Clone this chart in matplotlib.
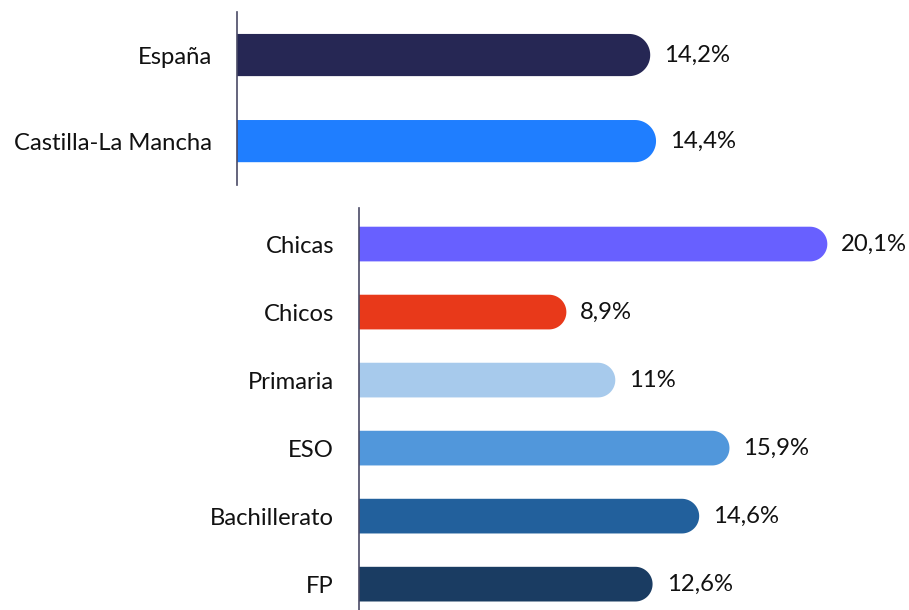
"""Horizontal bar chart with rounded bar ends, two panels."""

import matplotlib.pyplot as plt
import numpy as np
from matplotlib.patches import PathPatch
from matplotlib.path import Path

# data
top_labels = ["España", "Castilla-La Mancha"]
top_values = [14.2, 14.4]
top_texts = ["14,2%", "14,4%"]
top_colors = ["#262754", "#1F7EFF"]

bottom_labels = ["Chicas", "Chicos", "Primaria", "ESO", "Bachillerato", "FP"]
bottom_values = [20.1, 8.9, 11.0, 15.9, 14.6, 12.6]
bottom_texts = ["20,1%", "8,9%", "11%", "15,9%", "14,6%", "12,6%"]
bottom_colors = ["#6860FF", "#E8391A", "#A7CAEC", "#5197DB", "#22609C", "#1A3C62"]

W, H, DPI = 909, 610, 100
FS = 17.2
plt.rcParams["font.family"] = ["Lato", "DejaVu Sans"]
fig = plt.figure(figsize=(W / DPI, H / DPI), dpi=DPI)


def rounded_bar(ax, y, value, h, rx, color):
    # square left end, half-circle right end (rx corrects for axis aspect)
    t = np.linspace(-np.pi / 2, np.pi / 2, 40)
    cx = value - rx
    arc = np.column_stack([cx + rx * np.cos(t), y + h / 2 * np.sin(t)])
    verts = np.vstack([[0, y - h / 2], arc, [0, y + h / 2], [0, y - h / 2]])
    ax.add_patch(PathPatch(Path(verts, closed=True), facecolor=color, edgecolor="none"))


def rounded_panel(rect_px, xmax, ylim, labels, values, texts, colors, bar_h):
    left, top, right, bottom = rect_px
    ax = fig.add_axes([left / W, 1 - bottom / H, (right - left) / W, (bottom - top) / H])
    ax.set_xlim(0, xmax)
    ax.set_ylim(*ylim)
    px_x = (right - left) / xmax
    px_y = (bottom - top) / abs(ylim[0] - ylim[1])
    rx = bar_h * px_y / 2 / px_x
    for i, (v, c) in enumerate(zip(values, colors)):
        rounded_bar(ax, i, v, bar_h, rx, c)
        ax.text(v + 14 / px_x, i, texts[i], va="center", ha="left", fontsize=FS, color="#111111")
    ax.set_yticks(range(len(labels)))
    ax.set_yticklabels(labels, fontsize=FS, color="#111111")
    ax.tick_params(axis="y", length=0, pad=18)
    ax.set_xticks([])
    for s in ["top", "right", "bottom"]:
        ax.spines[s].set_visible(False)
    ax.spines["left"].set_color("#4a4a66")
    ax.spines["left"].set_linewidth(1.2)
    ax.spines["left"].set_zorder(3)
    ax.patch.set_alpha(0)
    return ax


rounded_panel((237, 12, 905, 185), 668 / 29.1, (1.51, -0.5),
              top_labels, top_values, top_texts, top_colors, 0.49)
rounded_panel((359, 208, 905, 610), 546 / 23.3, (5.38, -0.53),
              bottom_labels, bottom_values, bottom_texts, bottom_colors, 0.51)

fig.savefig("out.png", dpi=DPI)
